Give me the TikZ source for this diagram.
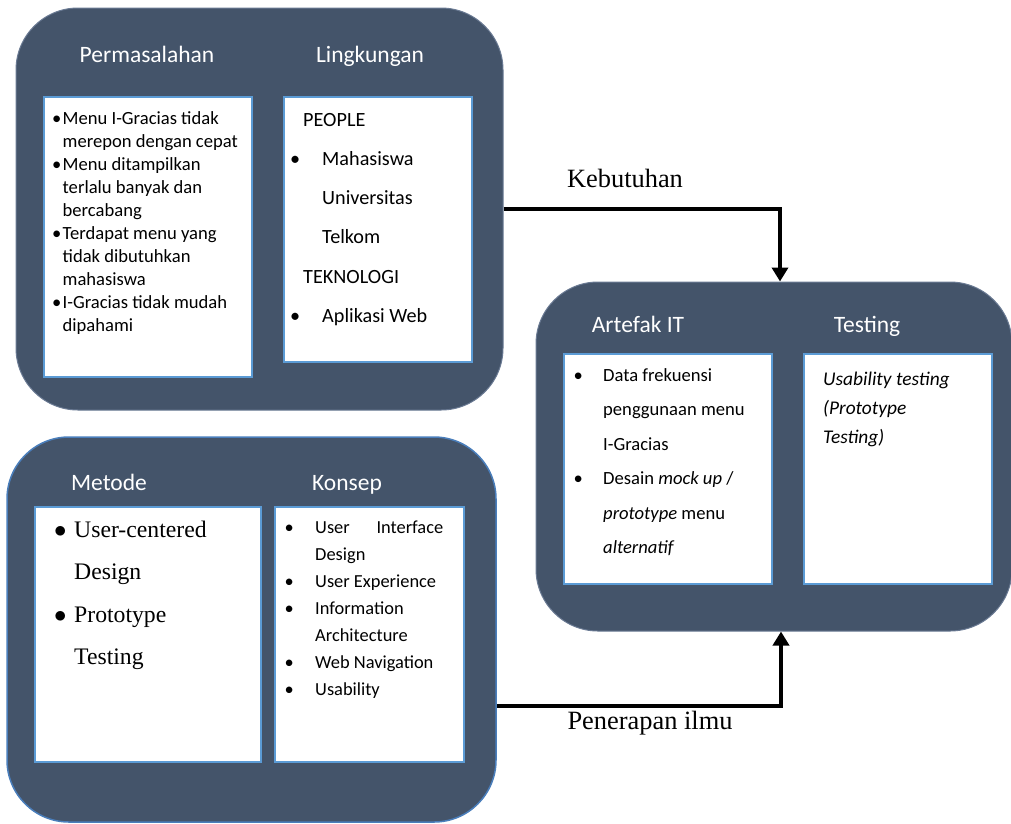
\documentclass[tikz,border=0pt]{standalone}
\usepackage{fontspec}
\setmainfont{Carlito}
\newfontfamily\timesfont{Liberation Serif}
\usetikzlibrary{arrows.meta}
\definecolor{kotak}{HTML}{44546A}
\definecolor{garis}{HTML}{5B9BD5}
\definecolor{tepi}{HTML}{4A7EBB}
\definecolor{bevel}{HTML}{6A7A93}
\newcommand{\bul}[1]{\makebox[#1][l]{\textbullet}}
\newcommand{\bulbesar}[1]{\makebox[#1][l]{$\bullet$}}
\tikzset{
  luar/.style={fill=kotak, rounded corners=62pt, inner sep=0pt},
  dalam/.style={fill=white, draw=garis, line width=2pt, inner sep=0pt},
  judul/.style={text=white, anchor=base, inner sep=0pt, font={\fontsize{23.5}{28}\selectfont}},
  isi/.style={anchor=base west, inner sep=0pt},
  panah/.style={line width=4pt, -{Triangle[width=16pt,length=14pt]}},
  keterangan/.style={font={\timesfont\fontsize{26.4}{30}\selectfont}}
}
\begin{document}
\begin{tikzpicture}[x=1pt,y=-1pt]
    \useasboundingbox (0,0) rectangle (1011,823);
    % kotak luar
    \node[luar, draw=bevel, line width=1pt, minimum width=487pt, minimum height=402pt] (masalah) at (259.5,209) {};
    \node[luar, draw=tepi, line width=1.5pt, minimum width=489pt, minimum height=385pt] (metode) at (251.5,629.5) {};
    \node[luar, draw=bevel, line width=1pt, minimum width=476pt, minimum height=349pt] (sistem) at (774,456.5) {};
    % kotak dalam
    \node[dalam, minimum width=208pt, minimum height=280pt] (bmasalah) at (148,237) {};
    \node[dalam, minimum width=188pt, minimum height=265pt] (blingkungan) at (378,229.5) {};
    \node[dalam, minimum width=226pt, minimum height=255pt] (bmetode) at (148,634.5) {};
    \node[dalam, minimum width=189pt, minimum height=255pt] (bkonsep) at (369.5,634.5) {};
    \node[dalam, minimum width=208pt, minimum height=230pt] (bartefak) at (668,469) {};
    \node[dalam, minimum width=188pt, minimum height=230pt] (btesting) at (898,469) {};
    % judul
    \node[judul] (jmasalah) at (147,62) {Permasalahan};\node[judul] (jlingkungan) at (370,62) {Lingkungan};
    \node[judul] (jmetode) at (109,490) {Metode};\node[judul] (jkonsep) at (347,490) {Konsep};
    \node[judul] (jartefak) at (638,332) {Artefak IT};\node[judul] (jtesting) at (867,332) {Testing};
    % isi
    \node[isi, font={\fontsize{18.6}{23}\selectfont}] (tmasalah) at (52,124.5) {\begin{tabular}[t]{@{}l@{}l@{}}
        \bul{10.5pt} & Menu I-Gracias tidak\\
        & merepon dengan cepat\\
        \bul{10.5pt} & Menu ditampilkan\\
        & terlalu banyak dan\\
        & bercabang\\
        \bul{10.5pt} & Terdapat menu yang\\
        & tidak dibutuhkan\\
        & mahasiswa\\
        \bul{10.5pt} & I-Gracias tidak mudah\\
        & dipahami
    \end{tabular}};
    \node[isi, font={\fontsize{20.2}{39.3}\selectfont}] (tlingkungan) at (290,126) {\begin{tabular}[t]{@{}l@{}l@{}}
        \multicolumn{2}{@{}l@{}}{\hspace{13pt}PEOPLE}\\
        \bul{32pt} & Mahasiswa\\
        & Universitas\\
        & Telkom\\
        \multicolumn{2}{@{}l@{}}{\hspace{13pt}TEKNOLOGI}\\
        \bul{32pt} & Aplikasi Web
    \end{tabular}};
    \node[isi, font={\timesfont\fontsize{23.7}{42.5}\selectfont}] (tmetode) at (54,537) {\begin{tabular}[t]{@{}l@{}l@{}}
        \bulbesar{20pt} & User-centered\\
        & Design\\
        \bulbesar{20pt} & Prototype\\
        & Testing
    \end{tabular}};
    \node[isi, font={\fontsize{18.4}{27}\selectfont}] (tkonsep) at (284.5,533.5) {\begin{tabular}[t]{@{}l@{}l@{}}
        \bul{30.5pt} & \makebox[128pt][s]{User Interface}\\
        & Design\\
        \bul{30.5pt} & User Experience\\
        \bul{30.5pt} & Information\\
        & Architecture\\
        \bul{30.5pt} & Web Navigation\\
        \bul{30.5pt} & Usability
    \end{tabular}};
    \node[isi, font={\fontsize{18.6}{34.4}\selectfont}] (tartefak) at (573.5,381.5) {\begin{tabular}[t]{@{}l@{}l@{}}
        \bul{29.5pt} & Data frekuensi\\
        & penggunaan menu\\
        & I-Gracias\\
        \bul{29.5pt} & Desain \textit{mock up} /\\
        & \textit{prototype} menu\\
        & \textit{alternatif}
    \end{tabular}};
    \node[isi, font={\itshape\fontsize{19.4}{29}\selectfont}] (ttesting) at (823,385) {\begin{tabular}[t]{@{}l@{}}
        Usability testing\\
        (Prototype\\
        Testing)
    \end{tabular}};
    % panah
    \draw[panah] (masalah.east) -| ([xshift=6pt]sistem.north);
    \draw[panah] ([yshift=-76.5pt]metode.east) -| ([xshift=7pt]sistem.south);
    \node[keterangan] (keb) at (625,178) {Kebutuhan};
    \node[keterangan] (pen) at (650,723) {Penerapan ilmu};
\end{tikzpicture}
\end{document}
